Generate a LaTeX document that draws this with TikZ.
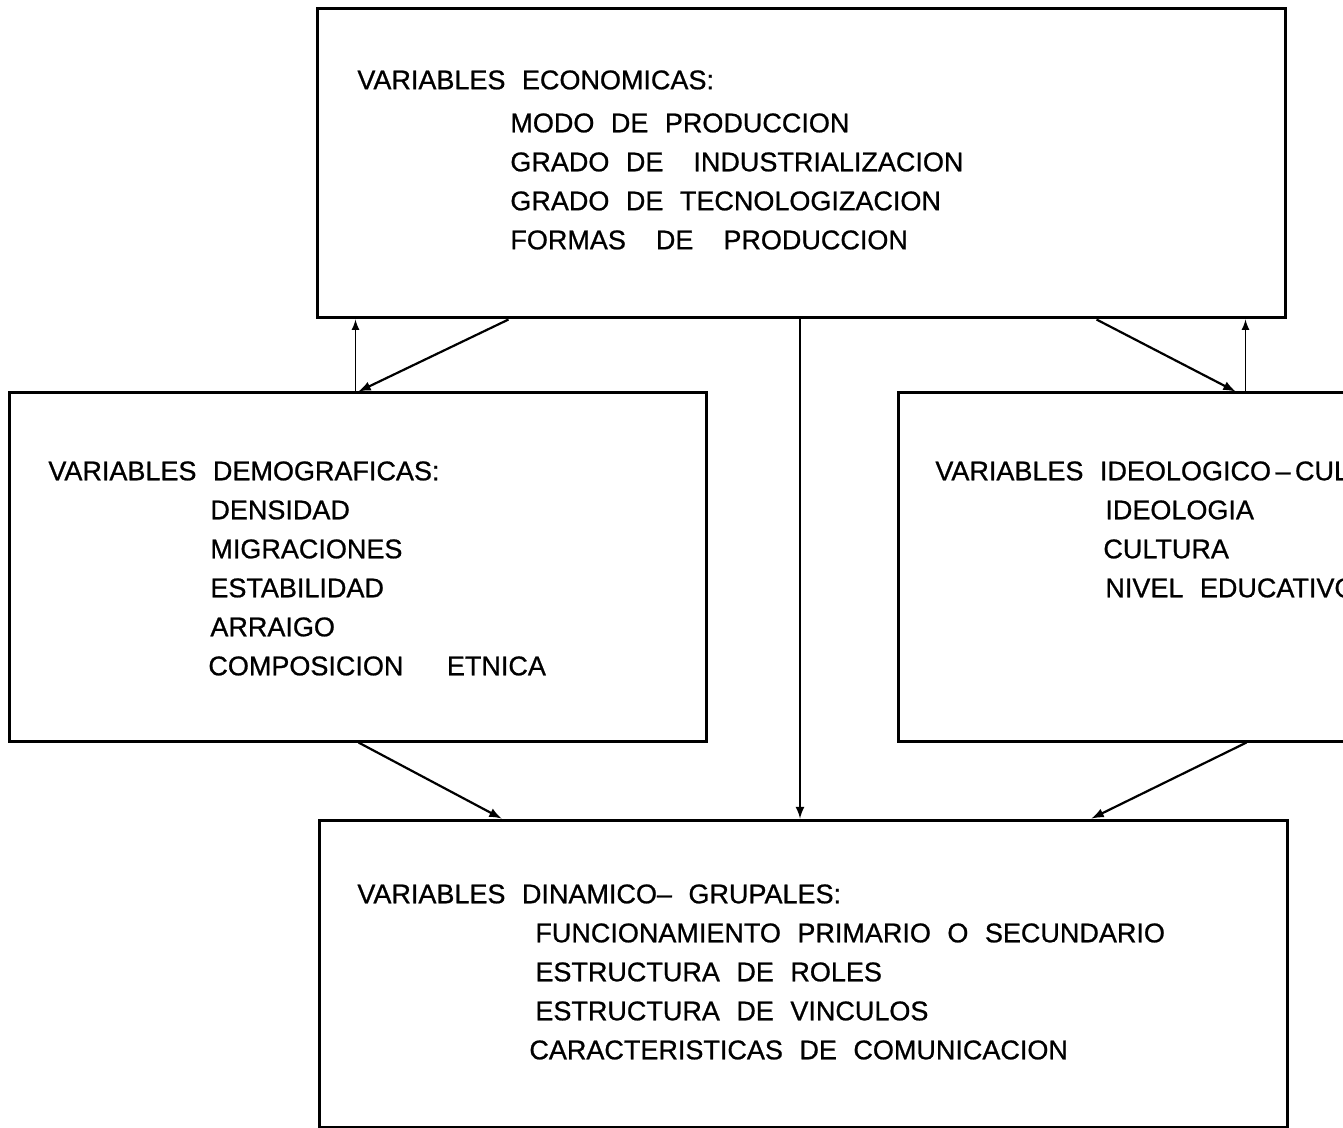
\documentclass[tikz,border=0pt]{standalone}
\usepackage{fontspec}
\setmainfont{Liberation Sans}[WordSpace=2.2, FakeBold=0.8]
\usetikzlibrary{arrows}

\tikzset{
	caja/.style={draw=black, line width=1.5pt, rectangle, inner sep=0pt},
	texto/.style={anchor=north west, inner sep=0pt, align=left, font=\fontsize{13.5}{19.5}\selectfont},
	flecha/.style={-latex, line width=1.1pt},
	retorno/.style={-latex, line width=0.8pt}
}

\begin{document}
\begin{tikzpicture}[x=0.5pt, y=-0.5pt]
			\useasboundingbox (0,0) rectangle (1343,1128);
			\clip (0,0) rectangle (1343,1128);
			% cajas
			\node [caja, minimum width=484pt, minimum height=154.5pt] (eco) at (801,163.5) {};
			\node [caja, minimum width=348.5pt, minimum height=174pt] (demo) at (357.5,567) {};
			\node [caja, minimum width=348.5pt, minimum height=174pt] (ideo) at (1246.5,567) {};
			\node [caja, minimum width=484pt, minimum height=153.5pt] (grupo) at (803,973.5) {};
			% textos
			\node [texto] (ecotxt) at (357,70) {VARIABLES ECONOMICAS:\\[2pt]
				\hspace*{76.5pt}MODO DE PRODUCCION\\
				\hspace*{76.5pt}GRADO DE \enskip INDUSTRIALIZACION\\
				\hspace*{76.5pt}GRADO DE TECNOLOGIZACION\\
				\hspace*{76.5pt}FORMAS \enskip DE \enskip PRODUCCION};
			\node [texto] (demotxt) at (48,461) {VARIABLES DEMOGRAFICAS:\\
				\hspace*{81pt}DENSIDAD\\
				\hspace*{81pt}MIGRACIONES\\
				\hspace*{81pt}ESTABILIDAD\\
				\hspace*{81pt}ARRAIGO\\
				\hspace*{80pt}COMPOSICION \quad ETNICA};
			\node [texto] (ideotxt) at (935,461) {VARIABLES IDEOLOGICO\,\textendash\,CULTURALES:\\
				\hspace*{85pt}IDEOLOGIA\\
				\hspace*{84pt}CULTURA\\
				\hspace*{85pt}NIVEL EDUCATIVO};
			\node [texto] (grupotxt) at (357,884) {VARIABLES DINAMICO\textendash{} GRUPALES:\\
				\hspace*{89pt}FUNCIONAMIENTO PRIMARIO O SECUNDARIO\\
				\hspace*{89pt}ESTRUCTURA DE ROLES\\
				\hspace*{89pt}ESTRUCTURA DE VINCULOS\\
				\hspace*{86pt}CARACTERISTICAS DE COMUNICACION};
			% flechas
			\draw [flecha] ([xshift=96.5pt]eco.south west) -- ([xshift=175.5pt]demo.north west);
			\draw [retorno] ([xshift=174pt]demo.north west) -- ([xshift=20pt]eco.south west);
			\draw [flecha] ([xshift=390.5pt]eco.south west) -- ([xshift=169.5pt]ideo.north west);
			\draw [retorno] ([xshift=174.5pt]ideo.north west) -- ([xshift=465pt]eco.south west);
			\draw [retorno, line width=1pt] ([xshift=-0.5pt]eco.south) -- ([xshift=-0.5pt]eco.south |- grupo.north);
			\draw [flecha] ([xshift=175.5pt]demo.south west) -- ([xshift=92pt]grupo.north west);
			\draw [flecha] ([xshift=175pt]ideo.south west) -- ([xshift=387pt]grupo.north west);
		\end{tikzpicture}
\end{document}
